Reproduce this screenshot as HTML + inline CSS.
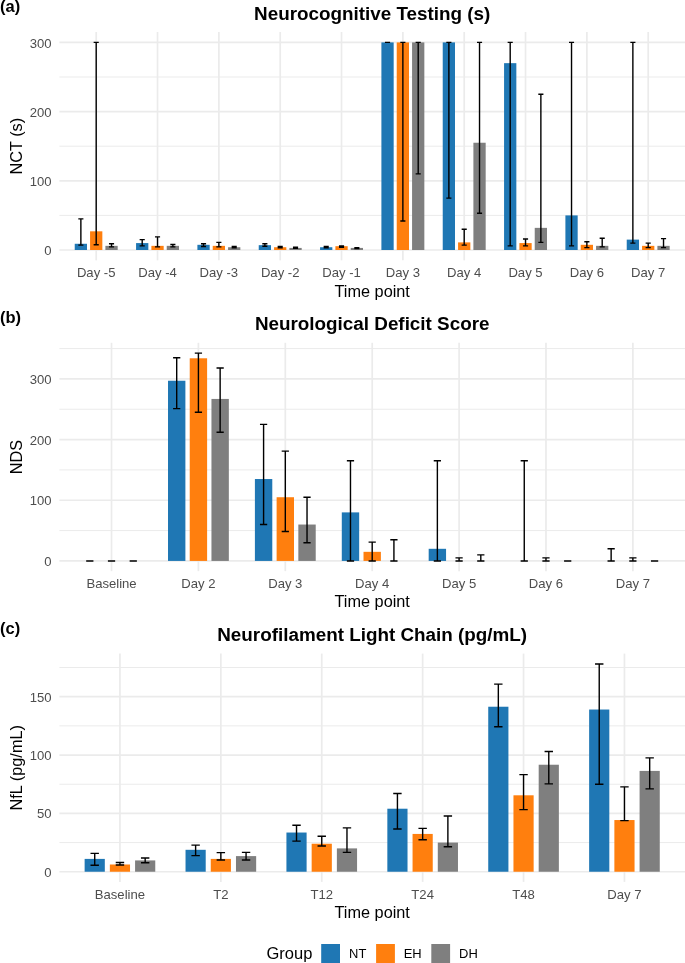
<!DOCTYPE html>
<html lang="en">
<head>
<meta charset="utf-8">
<title>Figure</title>
<style>
html,body{margin:0;padding:0;background:#fff;}
svg{display:block;}
text{font-family:"Liberation Sans",Arial,Helvetica,sans-serif;}
.tk{font-size:13.1px;fill:#4d4d4d;}
.ax{font-size:16.3px;fill:#000;}
.ti{font-size:18.85px;font-weight:bold;fill:#000;}
.tg{font-size:16.5px;font-weight:bold;fill:#000;}
.lg{font-size:12.95px;fill:#000;}
</style>
</head>
<body>
<svg width="685" height="963" viewBox="0 0 685 963">
<rect width="685" height="963" fill="#fff"/>
<g>
<line x1="59.4" x2="685" y1="215.4" y2="215.4" stroke="#ebebeb" stroke-width="1.0"/>
<line x1="59.4" x2="685" y1="146.2" y2="146.2" stroke="#ebebeb" stroke-width="1.0"/>
<line x1="59.4" x2="685" y1="77" y2="77" stroke="#ebebeb" stroke-width="1.0"/>
<line x1="59.4" x2="685" y1="250" y2="250" stroke="#ebebeb" stroke-width="1.7"/>
<line x1="59.4" x2="685" y1="180.8" y2="180.8" stroke="#ebebeb" stroke-width="1.7"/>
<line x1="59.4" x2="685" y1="111.6" y2="111.6" stroke="#ebebeb" stroke-width="1.7"/>
<line x1="59.4" x2="685" y1="42.4" y2="42.4" stroke="#ebebeb" stroke-width="1.7"/>
<line x1="96.2" x2="96.2" y1="32" y2="260.35" stroke="#ebebeb" stroke-width="1.7"/>
<line x1="157.53" x2="157.53" y1="32" y2="260.35" stroke="#ebebeb" stroke-width="1.7"/>
<line x1="218.87" x2="218.87" y1="32" y2="260.35" stroke="#ebebeb" stroke-width="1.7"/>
<line x1="280.2" x2="280.2" y1="32" y2="260.35" stroke="#ebebeb" stroke-width="1.7"/>
<line x1="341.53" x2="341.53" y1="32" y2="260.35" stroke="#ebebeb" stroke-width="1.7"/>
<line x1="402.87" x2="402.87" y1="32" y2="260.35" stroke="#ebebeb" stroke-width="1.7"/>
<line x1="464.2" x2="464.2" y1="32" y2="260.35" stroke="#ebebeb" stroke-width="1.7"/>
<line x1="525.53" x2="525.53" y1="32" y2="260.35" stroke="#ebebeb" stroke-width="1.7"/>
<line x1="586.87" x2="586.87" y1="32" y2="260.35" stroke="#ebebeb" stroke-width="1.7"/>
<line x1="648.2" x2="648.2" y1="32" y2="260.35" stroke="#ebebeb" stroke-width="1.7"/>
<rect x="74.73" y="243.77" width="12.27" height="6.23" fill="#1f77b4"/>
<rect x="90.07" y="231.32" width="12.27" height="18.68" fill="#ff7f0e"/>
<rect x="105.4" y="245.85" width="12.27" height="4.15" fill="#7f7f7f"/>
<rect x="136.07" y="243.08" width="12.27" height="6.92" fill="#1f77b4"/>
<rect x="151.4" y="245.85" width="12.27" height="4.15" fill="#ff7f0e"/>
<rect x="166.73" y="245.85" width="12.27" height="4.15" fill="#7f7f7f"/>
<rect x="197.4" y="244.81" width="12.27" height="5.19" fill="#1f77b4"/>
<rect x="212.73" y="245.85" width="12.27" height="4.15" fill="#ff7f0e"/>
<rect x="228.07" y="247.23" width="12.27" height="2.77" fill="#7f7f7f"/>
<rect x="258.73" y="245.16" width="12.27" height="4.84" fill="#1f77b4"/>
<rect x="274.07" y="247.23" width="12.27" height="2.77" fill="#ff7f0e"/>
<rect x="289.4" y="247.92" width="12.27" height="2.08" fill="#7f7f7f"/>
<rect x="320.07" y="247.23" width="12.27" height="2.77" fill="#1f77b4"/>
<rect x="335.4" y="246.19" width="12.27" height="3.81" fill="#ff7f0e"/>
<rect x="350.73" y="247.92" width="12.27" height="2.08" fill="#7f7f7f"/>
<rect x="381.4" y="42.4" width="12.27" height="207.6" fill="#1f77b4"/>
<rect x="396.73" y="42.4" width="12.27" height="207.6" fill="#ff7f0e"/>
<rect x="412.07" y="42.4" width="12.27" height="207.6" fill="#7f7f7f"/>
<rect x="442.73" y="42.4" width="12.27" height="207.6" fill="#1f77b4"/>
<rect x="458.07" y="242.39" width="12.27" height="7.61" fill="#ff7f0e"/>
<rect x="473.4" y="142.74" width="12.27" height="107.26" fill="#7f7f7f"/>
<rect x="504.07" y="63.16" width="12.27" height="186.84" fill="#1f77b4"/>
<rect x="519.4" y="243.08" width="12.27" height="6.92" fill="#ff7f0e"/>
<rect x="534.73" y="227.86" width="12.27" height="22.14" fill="#7f7f7f"/>
<rect x="565.4" y="215.4" width="12.27" height="34.6" fill="#1f77b4"/>
<rect x="580.73" y="244.81" width="12.27" height="5.19" fill="#ff7f0e"/>
<rect x="596.07" y="245.85" width="12.27" height="4.15" fill="#7f7f7f"/>
<rect x="626.73" y="239.62" width="12.27" height="10.38" fill="#1f77b4"/>
<rect x="642.07" y="245.85" width="12.27" height="4.15" fill="#ff7f0e"/>
<rect x="657.4" y="245.85" width="12.27" height="4.15" fill="#7f7f7f"/>
<path d="M78.31 218.86H83.42M80.87 218.86V245.16M78.31 245.16H83.42" stroke="#000" stroke-width="1.4" fill="none"/>
<path d="M93.64 42.4H98.76M96.2 42.4V244.81M93.64 244.81H98.76" stroke="#000" stroke-width="1.4" fill="none"/>
<path d="M108.98 243.77H114.09M111.53 243.77V246.89M108.98 246.89H114.09" stroke="#000" stroke-width="1.4" fill="none"/>
<path d="M139.64 239.62H144.76M142.2 239.62V245.85M139.64 245.85H144.76" stroke="#000" stroke-width="1.4" fill="none"/>
<path d="M154.98 236.85H160.09M157.53 236.85V246.89M154.98 246.89H160.09" stroke="#000" stroke-width="1.4" fill="none"/>
<path d="M170.31 244.46H175.42M172.87 244.46V246.89M170.31 246.89H175.42" stroke="#000" stroke-width="1.4" fill="none"/>
<path d="M200.98 243.77H206.09M203.53 243.77V246.54M200.98 246.54H206.09" stroke="#000" stroke-width="1.4" fill="none"/>
<path d="M216.31 242.39H221.42M218.87 242.39V246.89M216.31 246.89H221.42" stroke="#000" stroke-width="1.4" fill="none"/>
<path d="M231.64 246.54H236.76M234.2 246.54V247.92M231.64 247.92H236.76" stroke="#000" stroke-width="1.4" fill="none"/>
<path d="M262.31 243.77H267.42M264.87 243.77V246.19M262.31 246.19H267.42" stroke="#000" stroke-width="1.4" fill="none"/>
<path d="M277.64 246.54H282.76M280.2 246.54V247.92M277.64 247.92H282.76" stroke="#000" stroke-width="1.4" fill="none"/>
<path d="M292.98 247.23H298.09M295.53 247.23V248.27M292.98 248.27H298.09" stroke="#000" stroke-width="1.4" fill="none"/>
<path d="M323.64 246.54H328.76M326.2 246.54V247.92M323.64 247.92H328.76" stroke="#000" stroke-width="1.4" fill="none"/>
<path d="M338.98 245.85H344.09M341.53 245.85V247.23M338.98 247.23H344.09" stroke="#000" stroke-width="1.4" fill="none"/>
<path d="M354.31 247.58H359.42M356.87 247.58V248.62M354.31 248.62H359.42" stroke="#000" stroke-width="1.4" fill="none"/>
<path d="M384.98 42.4H390.09M387.53 42.4V42.4M384.98 42.4H390.09" stroke="#000" stroke-width="1.4" fill="none"/>
<path d="M400.31 42.4H405.42M402.87 42.4V220.94M400.31 220.94H405.42" stroke="#000" stroke-width="1.4" fill="none"/>
<path d="M415.64 42.4H420.76M418.2 42.4V173.88M415.64 173.88H420.76" stroke="#000" stroke-width="1.4" fill="none"/>
<path d="M446.31 42.4H451.42M448.87 42.4V198.1M446.31 198.1H451.42" stroke="#000" stroke-width="1.4" fill="none"/>
<path d="M461.64 229.24H466.76M464.2 229.24V245.16M461.64 245.16H466.76" stroke="#000" stroke-width="1.4" fill="none"/>
<path d="M476.98 42.4H482.09M479.53 42.4V213.32M476.98 213.32H482.09" stroke="#000" stroke-width="1.4" fill="none"/>
<path d="M507.64 42.4H512.76M510.2 42.4V245.85M507.64 245.85H512.76" stroke="#000" stroke-width="1.4" fill="none"/>
<path d="M522.98 238.93H528.09M525.53 238.93V245.85M522.98 245.85H528.09" stroke="#000" stroke-width="1.4" fill="none"/>
<path d="M538.31 94.3H543.42M540.87 94.3V242.39M538.31 242.39H543.42" stroke="#000" stroke-width="1.4" fill="none"/>
<path d="M568.98 42.4H574.09M571.53 42.4V245.85M568.98 245.85H574.09" stroke="#000" stroke-width="1.4" fill="none"/>
<path d="M584.31 241.7H589.42M586.87 241.7V247.58M584.31 247.58H589.42" stroke="#000" stroke-width="1.4" fill="none"/>
<path d="M599.64 238.24H604.76M602.2 238.24V246.89M599.64 246.89H604.76" stroke="#000" stroke-width="1.4" fill="none"/>
<path d="M630.31 42.4H635.42M632.87 42.4V243.08M630.31 243.08H635.42" stroke="#000" stroke-width="1.4" fill="none"/>
<path d="M645.64 243.08H650.76M648.2 243.08V247.58M645.64 247.58H650.76" stroke="#000" stroke-width="1.4" fill="none"/>
<path d="M660.98 238.58H666.09M663.53 238.58V247.58M660.98 247.58H666.09" stroke="#000" stroke-width="1.4" fill="none"/>
<text class="tk" x="51.6" y="255.1" text-anchor="end">0</text>
<text class="tk" x="51.6" y="185.9" text-anchor="end">100</text>
<text class="tk" x="51.6" y="116.7" text-anchor="end">200</text>
<text class="tk" x="51.6" y="47.5" text-anchor="end">300</text>
<text class="tk" x="96.2" y="277.2" text-anchor="middle">Day -5</text>
<text class="tk" x="157.53" y="277.2" text-anchor="middle">Day -4</text>
<text class="tk" x="218.87" y="277.2" text-anchor="middle">Day -3</text>
<text class="tk" x="280.2" y="277.2" text-anchor="middle">Day -2</text>
<text class="tk" x="341.53" y="277.2" text-anchor="middle">Day -1</text>
<text class="tk" x="402.87" y="277.2" text-anchor="middle">Day 3</text>
<text class="tk" x="464.2" y="277.2" text-anchor="middle">Day 4</text>
<text class="tk" x="525.53" y="277.2" text-anchor="middle">Day 5</text>
<text class="tk" x="586.87" y="277.2" text-anchor="middle">Day 6</text>
<text class="tk" x="648.2" y="277.2" text-anchor="middle">Day 7</text>
<text class="ax" x="372.2" y="296.5" text-anchor="middle">Time point</text>
<text class="ax" transform="translate(22.2 146.18) rotate(-90)" text-anchor="middle">NCT (s)</text>
<text class="ti" x="372.2" y="19.6" text-anchor="middle">Neurocognitive Testing (s)</text>
<text class="tg" x="0" y="12.2">(a)</text>
</g>
<g>
<line x1="59.4" x2="685" y1="530.59" y2="530.59" stroke="#ebebeb" stroke-width="1.0"/>
<line x1="59.4" x2="685" y1="469.92" y2="469.92" stroke="#ebebeb" stroke-width="1.0"/>
<line x1="59.4" x2="685" y1="409.25" y2="409.25" stroke="#ebebeb" stroke-width="1.0"/>
<line x1="59.4" x2="685" y1="348.58" y2="348.58" stroke="#ebebeb" stroke-width="1.0"/>
<line x1="59.4" x2="685" y1="560.93" y2="560.93" stroke="#ebebeb" stroke-width="1.7"/>
<line x1="59.4" x2="685" y1="500.26" y2="500.26" stroke="#ebebeb" stroke-width="1.7"/>
<line x1="59.4" x2="685" y1="439.59" y2="439.59" stroke="#ebebeb" stroke-width="1.7"/>
<line x1="59.4" x2="685" y1="378.92" y2="378.92" stroke="#ebebeb" stroke-width="1.7"/>
<line x1="111.53" x2="111.53" y1="342.8" y2="571.15" stroke="#ebebeb" stroke-width="1.7"/>
<line x1="198.42" x2="198.42" y1="342.8" y2="571.15" stroke="#ebebeb" stroke-width="1.7"/>
<line x1="285.31" x2="285.31" y1="342.8" y2="571.15" stroke="#ebebeb" stroke-width="1.7"/>
<line x1="372.2" x2="372.2" y1="342.8" y2="571.15" stroke="#ebebeb" stroke-width="1.7"/>
<line x1="459.09" x2="459.09" y1="342.8" y2="571.15" stroke="#ebebeb" stroke-width="1.7"/>
<line x1="545.98" x2="545.98" y1="342.8" y2="571.15" stroke="#ebebeb" stroke-width="1.7"/>
<line x1="632.87" x2="632.87" y1="342.8" y2="571.15" stroke="#ebebeb" stroke-width="1.7"/>
<rect x="168.01" y="380.74" width="17.38" height="180.19" fill="#1f77b4"/>
<rect x="189.73" y="358.29" width="17.38" height="202.64" fill="#ff7f0e"/>
<rect x="211.46" y="398.94" width="17.38" height="161.99" fill="#7f7f7f"/>
<rect x="254.9" y="479.03" width="17.38" height="81.9" fill="#1f77b4"/>
<rect x="276.62" y="497.23" width="17.38" height="63.7" fill="#ff7f0e"/>
<rect x="298.34" y="524.53" width="17.38" height="36.4" fill="#7f7f7f"/>
<rect x="341.79" y="512.39" width="17.38" height="48.54" fill="#1f77b4"/>
<rect x="363.51" y="551.83" width="17.38" height="9.1" fill="#ff7f0e"/>
<rect x="428.68" y="548.8" width="17.38" height="12.13" fill="#1f77b4"/>
<path d="M86.19 560.93H93.43M89.81 560.93V560.93M86.19 560.93H93.43" stroke="#000" stroke-width="1.4" fill="none"/>
<path d="M107.91 560.93H115.15M111.53 560.93V560.93M107.91 560.93H115.15" stroke="#000" stroke-width="1.4" fill="none"/>
<path d="M129.64 560.93H136.88M133.26 560.93V560.93M129.64 560.93H136.88" stroke="#000" stroke-width="1.4" fill="none"/>
<path d="M173.08 357.69H180.32M176.7 357.69V408.65M173.08 408.65H180.32" stroke="#000" stroke-width="1.4" fill="none"/>
<path d="M194.8 353.14H202.04M198.42 353.14V412.29M194.8 412.29H202.04" stroke="#000" stroke-width="1.4" fill="none"/>
<path d="M216.52 368H223.76M220.14 368V432.31M216.52 432.31H223.76" stroke="#000" stroke-width="1.4" fill="none"/>
<path d="M259.97 424.42H267.21M263.59 424.42V524.53M259.97 524.53H267.21" stroke="#000" stroke-width="1.4" fill="none"/>
<path d="M281.69 451.12H288.93M285.31 451.12V531.51M281.69 531.51H288.93" stroke="#000" stroke-width="1.4" fill="none"/>
<path d="M303.41 497.23H310.65M307.03 497.23V542.73M303.41 542.73H310.65" stroke="#000" stroke-width="1.4" fill="none"/>
<path d="M346.86 460.82H354.1M350.48 460.82V560.93M346.86 560.93H354.1" stroke="#000" stroke-width="1.4" fill="none"/>
<path d="M368.58 542.12H375.82M372.2 542.12V560.93M368.58 560.93H375.82" stroke="#000" stroke-width="1.4" fill="none"/>
<path d="M390.3 539.7H397.54M393.92 539.7V560.93M390.3 560.93H397.54" stroke="#000" stroke-width="1.4" fill="none"/>
<path d="M433.75 460.82H440.99M437.37 460.82V560.93M433.75 560.93H440.99" stroke="#000" stroke-width="1.4" fill="none"/>
<path d="M455.47 557.9H462.71M459.09 557.9V560.93M455.47 560.93H462.71" stroke="#000" stroke-width="1.4" fill="none"/>
<path d="M477.19 554.86H484.43M480.81 554.86V560.93M477.19 560.93H484.43" stroke="#000" stroke-width="1.4" fill="none"/>
<path d="M520.64 460.82H527.88M524.26 460.82V560.93M520.64 560.93H527.88" stroke="#000" stroke-width="1.4" fill="none"/>
<path d="M542.36 557.9H549.6M545.98 557.9V560.93M542.36 560.93H549.6" stroke="#000" stroke-width="1.4" fill="none"/>
<path d="M564.08 560.93H571.32M567.7 560.93V560.93M564.08 560.93H571.32" stroke="#000" stroke-width="1.4" fill="none"/>
<path d="M607.52 548.8H614.76M611.14 548.8V560.93M607.52 560.93H614.76" stroke="#000" stroke-width="1.4" fill="none"/>
<path d="M629.25 557.9H636.49M632.87 557.9V560.93M629.25 560.93H636.49" stroke="#000" stroke-width="1.4" fill="none"/>
<path d="M650.97 560.93H658.21M654.59 560.93V560.93M650.97 560.93H658.21" stroke="#000" stroke-width="1.4" fill="none"/>
<text class="tk" x="51.6" y="566.03" text-anchor="end">0</text>
<text class="tk" x="51.6" y="505.36" text-anchor="end">100</text>
<text class="tk" x="51.6" y="444.69" text-anchor="end">200</text>
<text class="tk" x="51.6" y="384.02" text-anchor="end">300</text>
<text class="tk" x="111.53" y="587.9" text-anchor="middle">Baseline</text>
<text class="tk" x="198.42" y="587.9" text-anchor="middle">Day 2</text>
<text class="tk" x="285.31" y="587.9" text-anchor="middle">Day 3</text>
<text class="tk" x="372.2" y="587.9" text-anchor="middle">Day 4</text>
<text class="tk" x="459.09" y="587.9" text-anchor="middle">Day 5</text>
<text class="tk" x="545.98" y="587.9" text-anchor="middle">Day 6</text>
<text class="tk" x="632.87" y="587.9" text-anchor="middle">Day 7</text>
<text class="ax" x="372.2" y="607.2" text-anchor="middle">Time point</text>
<text class="ax" transform="translate(22.2 456.98) rotate(-90)" text-anchor="middle">NDS</text>
<text class="ti" x="372.2" y="330.3" text-anchor="middle">Neurological Deficit Score</text>
<text class="tg" x="0" y="322.9">(b)</text>
</g>
<g>
<line x1="59.4" x2="685" y1="842.57" y2="842.57" stroke="#ebebeb" stroke-width="1.0"/>
<line x1="59.4" x2="685" y1="784.22" y2="784.22" stroke="#ebebeb" stroke-width="1.0"/>
<line x1="59.4" x2="685" y1="725.87" y2="725.87" stroke="#ebebeb" stroke-width="1.0"/>
<line x1="59.4" x2="685" y1="667.51" y2="667.51" stroke="#ebebeb" stroke-width="1.0"/>
<line x1="59.4" x2="685" y1="871.74" y2="871.74" stroke="#ebebeb" stroke-width="1.7"/>
<line x1="59.4" x2="685" y1="813.39" y2="813.39" stroke="#ebebeb" stroke-width="1.7"/>
<line x1="59.4" x2="685" y1="755.04" y2="755.04" stroke="#ebebeb" stroke-width="1.7"/>
<line x1="59.4" x2="685" y1="696.69" y2="696.69" stroke="#ebebeb" stroke-width="1.7"/>
<line x1="119.94" x2="119.94" y1="653.6" y2="881.9" stroke="#ebebeb" stroke-width="1.7"/>
<line x1="220.85" x2="220.85" y1="653.6" y2="881.9" stroke="#ebebeb" stroke-width="1.7"/>
<line x1="321.75" x2="321.75" y1="653.6" y2="881.9" stroke="#ebebeb" stroke-width="1.7"/>
<line x1="422.65" x2="422.65" y1="653.6" y2="881.9" stroke="#ebebeb" stroke-width="1.7"/>
<line x1="523.55" x2="523.55" y1="653.6" y2="881.9" stroke="#ebebeb" stroke-width="1.7"/>
<line x1="624.46" x2="624.46" y1="653.6" y2="881.9" stroke="#ebebeb" stroke-width="1.7"/>
<rect x="84.63" y="858.9" width="20.18" height="12.84" fill="#1f77b4"/>
<rect x="109.85" y="864.5" width="20.18" height="7.24" fill="#ff7f0e"/>
<rect x="135.08" y="860.42" width="20.18" height="11.32" fill="#7f7f7f"/>
<rect x="185.53" y="849.8" width="20.18" height="21.94" fill="#1f77b4"/>
<rect x="210.75" y="858.9" width="20.18" height="12.84" fill="#ff7f0e"/>
<rect x="235.98" y="856.1" width="20.18" height="15.64" fill="#7f7f7f"/>
<rect x="286.43" y="832.53" width="20.18" height="39.21" fill="#1f77b4"/>
<rect x="311.66" y="843.73" width="20.18" height="28.01" fill="#ff7f0e"/>
<rect x="336.88" y="848.4" width="20.18" height="23.34" fill="#7f7f7f"/>
<rect x="387.34" y="808.72" width="20.18" height="63.02" fill="#1f77b4"/>
<rect x="412.56" y="833.93" width="20.18" height="37.81" fill="#ff7f0e"/>
<rect x="437.79" y="842.57" width="20.18" height="29.17" fill="#7f7f7f"/>
<rect x="488.24" y="706.73" width="20.18" height="165.01" fill="#1f77b4"/>
<rect x="513.46" y="795.3" width="20.18" height="76.44" fill="#ff7f0e"/>
<rect x="538.69" y="764.73" width="20.18" height="107.01" fill="#7f7f7f"/>
<rect x="589.14" y="709.53" width="20.18" height="162.21" fill="#1f77b4"/>
<rect x="614.37" y="820.04" width="20.18" height="51.7" fill="#ff7f0e"/>
<rect x="639.59" y="770.91" width="20.18" height="100.83" fill="#7f7f7f"/>
<path d="M90.51 853.42H98.92M94.72 853.42V865.2M90.51 865.2H98.92" stroke="#000" stroke-width="1.4" fill="none"/>
<path d="M115.74 862.52H124.15M119.94 862.52V864.97M115.74 864.97H124.15" stroke="#000" stroke-width="1.4" fill="none"/>
<path d="M140.96 857.97H149.37M145.17 857.97V862.75M140.96 862.75H149.37" stroke="#000" stroke-width="1.4" fill="none"/>
<path d="M191.42 845.13H199.82M195.62 845.13V855.64M191.42 855.64H199.82" stroke="#000" stroke-width="1.4" fill="none"/>
<path d="M216.64 852.6H225.05M220.85 852.6V860.07M216.64 860.07H225.05" stroke="#000" stroke-width="1.4" fill="none"/>
<path d="M241.87 852.37H250.28M246.07 852.37V860.07M241.87 860.07H250.28" stroke="#000" stroke-width="1.4" fill="none"/>
<path d="M292.32 825.29H300.73M296.52 825.29V841.16M292.32 841.16H300.73" stroke="#000" stroke-width="1.4" fill="none"/>
<path d="M317.54 836.26H325.95M321.75 836.26V846.07M317.54 846.07H325.95" stroke="#000" stroke-width="1.4" fill="none"/>
<path d="M342.77 827.86H351.18M346.97 827.86V852.37M342.77 852.37H351.18" stroke="#000" stroke-width="1.4" fill="none"/>
<path d="M393.22 793.55H401.63M397.43 793.55V829.03M393.22 829.03H401.63" stroke="#000" stroke-width="1.4" fill="none"/>
<path d="M418.45 828.33H426.86M422.65 828.33V839.76M418.45 839.76H426.86" stroke="#000" stroke-width="1.4" fill="none"/>
<path d="M443.67 815.96H452.08M447.88 815.96V846.77M443.67 846.77H452.08" stroke="#000" stroke-width="1.4" fill="none"/>
<path d="M494.12 684.09H502.53M498.33 684.09V726.8M494.12 726.8H502.53" stroke="#000" stroke-width="1.4" fill="none"/>
<path d="M519.35 774.65H527.76M523.55 774.65V809.66M519.35 809.66H527.76" stroke="#000" stroke-width="1.4" fill="none"/>
<path d="M544.58 751.54H552.98M548.78 751.54V783.86M544.58 783.86H552.98" stroke="#000" stroke-width="1.4" fill="none"/>
<path d="M595.03 664.01H603.44M599.23 664.01V784.22M595.03 784.22H603.44" stroke="#000" stroke-width="1.4" fill="none"/>
<path d="M620.25 786.9H628.66M624.46 786.9V820.63M620.25 820.63H628.66" stroke="#000" stroke-width="1.4" fill="none"/>
<path d="M645.48 757.84H653.89M649.68 757.84V788.88M645.48 788.88H653.89" stroke="#000" stroke-width="1.4" fill="none"/>
<text class="tk" x="51.6" y="876.84" text-anchor="end">0</text>
<text class="tk" x="51.6" y="818.49" text-anchor="end">50</text>
<text class="tk" x="51.6" y="760.14" text-anchor="end">100</text>
<text class="tk" x="51.6" y="701.79" text-anchor="end">150</text>
<text class="tk" x="119.94" y="898.6" text-anchor="middle">Baseline</text>
<text class="tk" x="220.85" y="898.6" text-anchor="middle">T2</text>
<text class="tk" x="321.75" y="898.6" text-anchor="middle">T12</text>
<text class="tk" x="422.65" y="898.6" text-anchor="middle">T24</text>
<text class="tk" x="523.55" y="898.6" text-anchor="middle">T48</text>
<text class="tk" x="624.46" y="898.6" text-anchor="middle">Day 7</text>
<text class="ax" x="372.2" y="917.9" text-anchor="middle">Time point</text>
<text class="ax" transform="translate(22.2 767.75) rotate(-90)" text-anchor="middle">NfL (pg/mL)</text>
<text class="ti" x="372.2" y="641" text-anchor="middle">Neurofilament Light Chain (pg/mL)</text>
<text class="tg" x="0" y="633.6">(c)</text>
</g>
<g>
<text class="ax" x="266.5" y="959.1" style="font-size:16.5px">Group</text>
<rect x="321.2" y="944" width="18.8" height="20" fill="#1f77b4"/>
<text class="lg" x="349.1" y="958.0">NT</text>
<rect x="376.1" y="944" width="18.8" height="20" fill="#ff7f0e"/>
<text class="lg" x="403.7" y="958.0">EH</text>
<rect x="431.3" y="944" width="18.8" height="20" fill="#7f7f7f"/>
<text class="lg" x="459.1" y="958.0">DH</text>
</g>
</svg>
</body>
</html>
